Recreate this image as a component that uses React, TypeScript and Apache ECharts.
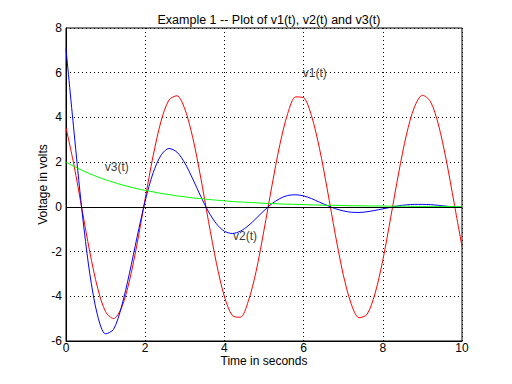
import React, { useEffect, useRef } from "react";
import * as echarts from "echarts";

const t: number[] = [
  0, 0.2, 0.4, 0.6, 0.8, 1, 1.2, 1.4, 1.6, 1.8, 2, 2.2, 2.4, 2.6, 2.8, 3, 3.2, 3.4, 3.6, 3.8,
  4, 4.2, 4.4, 4.6, 4.8, 5, 5.2, 5.4, 5.6, 5.8, 6, 6.2, 6.4, 6.6, 6.8, 7, 7.2, 7.4, 7.6, 7.8,
  8, 8.2, 8.4, 8.6, 8.8, 9, 9.2, 9.4, 9.6, 9.8, 10,
];
const v1: number[] = [
  3.54, 1.88, -0.07, -2.01, -3.64, -4.69, -5.0, -4.52, -3.32, -1.61, 0.37, 2.28, 3.83, 4.78, 4.97,
  4.38, 3.1, 1.33, -0.66, -2.53, -4.01, -4.86, -4.94, -4.24, -2.89, -1.04, 0.94, 2.78, 4.18, 4.92,
  4.88, 4.07, 2.62, 0.76, -1.23, -3.02, -4.33, -4.96, -4.81, -3.9, -2.39, -0.47, 1.51, 3.25, 4.47,
  4.99, 4.72, 3.71, 2.11, 0.18, -1.78,
];
const v2: number[] = [
  7.07, 3.4, -0.12, -2.98, -4.88, -5.68, -5.48, -4.48, -2.99, -1.31, 0.27, 1.52, 2.31, 2.61, 2.45,
  1.96, 1.25, 0.48, -0.22, -0.76, -1.09, -1.19, -1.09, -0.85, -0.52, -0.17, 0.14, 0.37, 0.51, 0.54,
  0.49, 0.37, 0.21, 0.06, -0.08, -0.18, -0.24, -0.25, -0.22, -0.16, -0.09, -0.02, 0.05, 0.09, 0.11,
  0.11, 0.1, 0.07, 0.03, 0.0, -0.02,
];
const v3: number[] = [
  2.0, 1.81, 1.64, 1.48, 1.34, 1.21, 1.1, 0.99, 0.9, 0.81, 0.74, 0.67, 0.6, 0.55, 0.49, 0.45, 0.4,
  0.37, 0.33, 0.3, 0.27, 0.24, 0.22, 0.2, 0.18, 0.16, 0.15, 0.13, 0.12, 0.11, 0.1, 0.09, 0.08, 0.07,
  0.07, 0.06, 0.05, 0.05, 0.04, 0.04, 0.04, 0.03, 0.03, 0.03, 0.02, 0.02, 0.02, 0.02, 0.02, 0.01,
  0.01,
];
const annotations: { text: string; x: number; y: number }[] = [
  { text: "v1(t)", x: 5.98, y: 6.0 },
  { text: "v3(t)", x: 0.98, y: 1.8 },
  { text: "v2(t)", x: 4.22, y: -1.3 },
];

const FONT = "Liberation Sans";
const FS = 12;

export default function App() {
  const ref = useRef<HTMLDivElement>(null);
  useEffect(() => {
    if (!ref.current) return;
    const chart = echarts.init(ref.current, null, { renderer: "svg" });
    const pair = (ys: number[]) => t.map((x, i) => [x, ys[i]]);
    const lineSeries = (name: string, ys: number[], color: string) => ({
      name,
      type: "line",
      data: pair(ys),
      smooth: 0.3,
      showSymbol: false,
      symbol: "none",
      lineStyle: { color, width: 1 },
      z: 3,
    });
    chart.setOption({
      animation: false,
      backgroundColor: "#ffffff",
      title: {
        text: "Example 1 -- Plot of v1(t), v2(t) and v3(t)",
        left: 264,
        textAlign: "center",
        top: 8,
        textStyle: { fontFamily: FONT, fontSize: 12.5, fontWeight: "normal", color: "#000" },
      },
      grid: {
        left: 66,
        right: 50,
        top: 28,
        bottom: 43,
        show: true,
        borderColor: "#000",
        borderWidth: 1,
        backgroundColor: "transparent",
      },
      xAxis: {
        type: "value",
        min: 0,
        max: 10,
        interval: 2,
        name: "Time in seconds",
        nameLocation: "middle",
        nameGap: 14,
        nameMoveOverlap: false,
        nameTextStyle: { fontFamily: FONT, fontSize: FS, color: "#000", lineHeight: 12 },
        axisLine: { show: true, onZero: false, lineStyle: { color: "#000" } },
        axisTick: { show: false },
        axisLabel: { fontFamily: FONT, fontSize: FS, color: "#000", margin: 1, lineHeight: 12 },
        splitLine: { show: true, lineStyle: { color: "#000", type: [1, 3], width: 1 } },
      },
      yAxis: {
        type: "value",
        min: -6,
        max: 8,
        interval: 2,
        name: "Voltage in volts",
        nameLocation: "middle",
        nameGap: 17,
        nameMoveOverlap: false,
        nameTextStyle: { fontFamily: FONT, fontSize: FS, color: "#000" },
        axisLine: { show: true, lineStyle: { color: "#000" } },
        axisTick: { show: false },
        axisLabel: { fontFamily: FONT, fontSize: FS, color: "#000", margin: 4 },
        splitLine: { show: true, lineStyle: { color: "#000", type: [1, 3], width: 1 } },
      },
      series: [
        {
          ...lineSeries("v1", v1, "#ff0000"),
          markLine: {
            silent: true,
            symbol: "none",
            label: { show: false },
            lineStyle: { color: "#000", type: "solid", width: 1 },
            data: [{ yAxis: 0 }],
          },
        },
        lineSeries("v2", v2, "#0000ff"),
        lineSeries("v3", v3, "#00ff00"),
        ...annotations.map((a) => ({
          type: "scatter",
          symbolSize: 0,
          silent: true,
          data: [[a.x, a.y]],
          z: 5,
          label: {
            show: true,
            position: "right",
            distance: 0,
            formatter: a.text,
            fontFamily: FONT,
            fontSize: FS,
            color: "#000",
          },
        })),
      ],
    });
    return () => chart.dispose();
  }, []);
  return (
    <div
      ref={ref}
      style={{ position: "fixed", left: 0, top: 0, width: 512, height: 384, background: "#fff" }}
    />
  );
}
